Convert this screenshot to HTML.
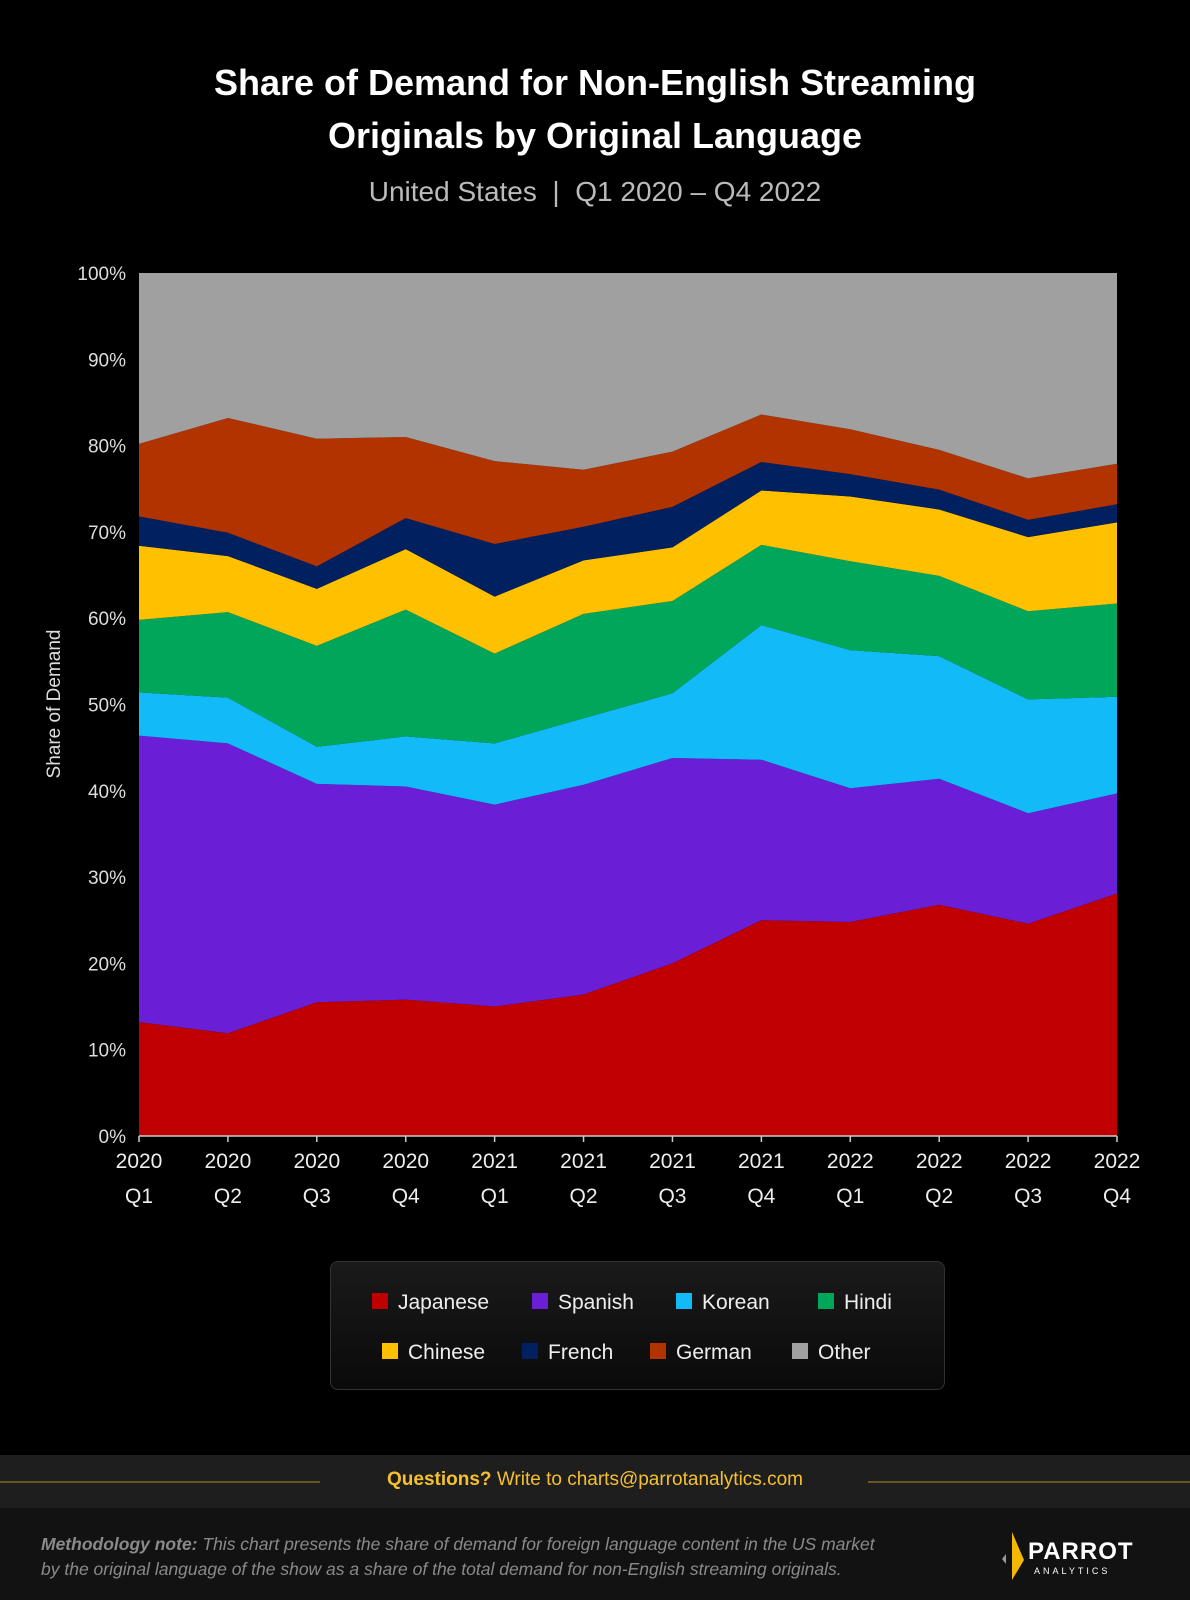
<!DOCTYPE html>
<html><head><meta charset="utf-8"><style>
body{margin:0;background:#000;width:1190px;height:1600px;overflow:hidden;font-family:"Liberation Sans",sans-serif;color:#fff}
.t{position:absolute;left:0;width:1190px;text-align:center}
</style></head><body>
<div class="t" style="top:56px;font-size:36px;font-weight:bold;line-height:53px">Share of Demand for Non-English Streaming<br>Originals by Original Language</div>
<div class="t" style="top:176px;font-size:28px;color:#bbb">United States &nbsp;|&nbsp; Q1 2020 – Q4 2022</div>
<div style="position:absolute;left:330px;top:1261px;width:613px;height:127px;border:1px solid #333;border-radius:8px;background:linear-gradient(#1a1a1a,#0a0a0a)"></div>
<svg id="c" width="1190" height="1420" style="position:absolute;left:0;top:0"></svg>
<div style="position:absolute;left:0;top:1455px;width:1190px;height:53px;background:#1e1e1e">
<div style="position:absolute;left:0;top:26px;width:320px;height:2px;background:#6b5520"></div>
<div style="position:absolute;left:868px;top:26px;width:322px;height:2px;background:#6b5520"></div>
<div class="t" style="top:14px;font-size:19px;color:#f5c030"><b>Questions?</b> Write to charts@parrotanalytics.com</div></div>
<div style="position:absolute;left:0;top:1508px;width:1190px;height:92px;background:#121212">
<div style="position:absolute;left:41px;top:24px;font-size:17.5px;font-style:italic;color:#8a8a8a;line-height:25px"><b>Methodology note:</b> This chart presents the share of demand for foreign language content in the US market<br>by the original language of the show as a share of the total demand for non-English streaming originals.</div>
<div style="position:absolute;left:998px;top:24px;width:150px;height:50px">
<svg width="30" height="50"><polygon points="14,0 26,28 14,48" fill="#f5b800"/><polygon points="8,22 4,27 8,32" fill="#999"/></svg>
<div style="position:absolute;left:30px;top:6px;font-size:24px;font-weight:bold;letter-spacing:1px">PARROT</div>
<div style="position:absolute;left:36px;top:34px;font-size:9px;letter-spacing:3px">ANALYTICS</div></div></div>
<script>
const categoriesYear=["2020","2020","2020","2020","2021","2021","2021","2021","2022","2022","2022","2022"];
const categoriesQ=["Q1","Q2","Q3","Q4","Q1","Q2","Q3","Q4","Q1","Q2","Q3","Q4"];
const seriesNames=["Japanese","Spanish","Korean","Hindi","Chinese","French","German","Other"];
const japanese=[13.2,11.9,15.5,15.8,15.0,16.4,20.0,25.0,24.8,26.8,24.6,28.1];
const spanish=[33.2,33.6,25.3,24.7,23.4,24.3,23.8,18.6,15.5,14.6,12.8,11.6];
const korean=[5.0,5.3,4.3,5.8,7.1,7.7,7.5,15.6,16.0,14.2,13.2,11.2];
const hindi=[8.4,9.9,11.7,14.7,10.4,12.1,10.7,9.3,10.3,9.3,10.2,10.8];
const chinese=[8.6,6.5,6.6,7.0,6.6,6.2,6.2,6.3,7.5,7.7,8.6,9.4];
const french=[3.4,2.7,2.6,3.6,6.1,3.9,4.7,3.3,2.6,2.3,2.0,2.1];
const german=[8.4,13.3,14.8,9.4,9.6,6.6,6.4,5.5,5.2,4.6,4.8,4.7];
const other=[19.8,16.8,19.2,19.0,21.8,22.8,20.7,16.4,18.1,20.5,23.8,22.1];
const yTicks=["0%","10%","20%","30%","40%","50%","60%","70%","80%","90%","100%"];
const series=[japanese,spanish,korean,hindi,chinese,french,german,other];
const colors=["#c00000","#6a1fd6","#12bbf7","#00a65a","#ffc000","#002060","#b03300","#a0a0a0"];
const L=139,R=1117,T=273,B=1136;
const NS="http://www.w3.org/2000/svg",svg=document.getElementById('c');
const xs=i=>L+(R-L)*i/(categoriesQ.length-1);
const ys=v=>B-(B-T)*v/100;
function mk(tag,at){const e=document.createElementNS(NS,tag);for(const k in at)e.setAttribute(k,at[k]);svg.appendChild(e);return e;}
let base=categoriesQ.map(()=>0);
series.forEach((s,k)=>{
  let top=base.map((b,i)=>b+s[i]);
  if(k===series.length-1) top=top.map(()=>100);
  let pts=top.map((v,i)=>xs(i)+","+ys(v));
  for(let i=base.length-1;i>=0;i--)pts.push(xs(i)+","+ys(base[i]));
  const p=mk('polygon',{points:pts.join(' '),fill:colors[k]});
  
  
  base=top;
});
mk('line',{x1:L,x2:R,y1:B,y2:B,stroke:'#ccc','stroke-width':1.5});
yTicks.forEach((t,i)=>{
  const e=mk('text',{x:126,y:ys(i*10)+7,'text-anchor':'end',fill:'#ddd','font-size':19});
  e.textContent=t;
  
  
});
categoriesQ.forEach((q,i)=>{
  mk('line',{x1:xs(i),x2:xs(i),y1:B,y2:B+6,stroke:'#ccc','stroke-width':1.5});
  const a=mk('text',{x:xs(i),y:1168,'text-anchor':'middle',fill:'#eee','font-size':21});
  a.textContent=categoriesYear[i];
  
  
  const b=mk('text',{x:xs(i),y:1203,'text-anchor':'middle',fill:'#eee','font-size':21});
  b.textContent=q;
  
  
});
const yt=mk('text',{x:0,y:0,transform:'translate(60,704) rotate(-90)','text-anchor':'middle',fill:'#ddd','font-size':19});
yt.textContent='Share of Demand';


const legX=[[372,532,676,818],[382,522,650,792]];
seriesNames.forEach((n,k)=>{
  const r=Math.floor(k/4),c=k%4,x=legX[r][c],y=r?1351:1301;
  const sq=mk('rect',{x:x,y:y-8,width:16,height:16,fill:colors[k]});
  
  
  const t=mk('text',{x:x+26,y:y+8,fill:'#eee','font-size':21});
  t.textContent=n;
  
  
});
</script>
</body></html>
